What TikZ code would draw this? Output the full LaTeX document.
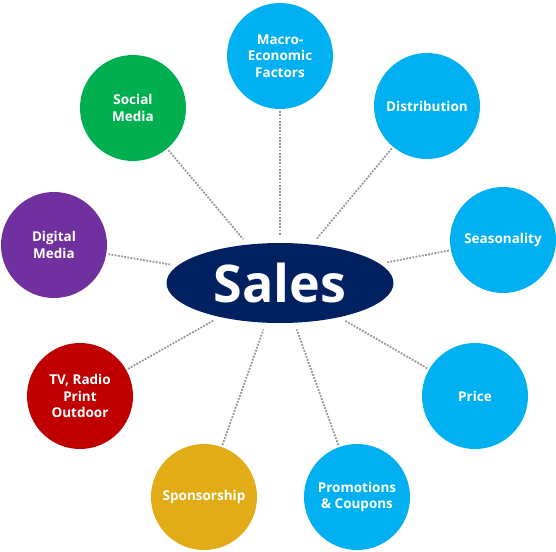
\documentclass[tikz,border=0pt]{standalone}
\usepackage{fontspec}
\setmainfont{Open Sans}
\usetikzlibrary{shapes.geometric}
\definecolor{cyanc}{RGB}{0,176,240}
\definecolor{greenc}{RGB}{0,176,80}
\definecolor{purplec}{RGB}{112,48,160}
\definecolor{redc}{RGB}{192,0,0}
\definecolor{goldc}{RGB}{226,172,22}
\definecolor{navyc}{RGB}{0,32,96}
\definecolor{linec}{RGB}{150,150,150}
\tikzset{
  bubble/.style={circle, minimum size=106pt, inner sep=0pt, align=center, text=white,
    font=\fontsize{13.5}{16.5}\selectfont\bfseries},
  conn/.style={draw=linec, line width=1.8pt, dash pattern=on 1.8pt off 1.4pt, shorten <=2pt, shorten >=7pt}
}
\begin{document}
\begin{tikzpicture}[x=1pt,y=-1pt]
\useasboundingbox (0,0) rectangle (556,551);
\node[ellipse, fill=navyc, minimum width=227pt, minimum height=80pt, inner sep=0pt, text=white,
  font=\fontsize{52}{58}\selectfont\bfseries] (sales) at (280,283) {Sales};
\node[bubble, fill=cyanc] (macro) at (280,56) {Macro-\\Economic\\Factors};
\node[bubble, fill=cyanc] (dist) at (427,106) {Distribution};
\node[bubble, fill=cyanc] (season) at (503,240) {Seasonality};
\node[bubble, fill=cyanc] (price) at (475,396) {Price};
\node[bubble, fill=cyanc] (promo) at (357,497) {Promotions\\\& Coupons};
\node[bubble, fill=goldc] (spons) at (204,497) {Sponsorship};
\node[bubble, fill=redc] (tv) at (80,396) {TV, Radio\\Print\\Outdoor};
\node[bubble, fill=purplec] (digital) at (54,245) {Digital\\Media};
\node[bubble, fill=greenc] (social) at (133,108) {Social\\Media};
\foreach \n in {macro,dist,season,price,promo,spons,tv,digital,social}
  \draw[conn] (\n) -- (sales);
\end{tikzpicture}
\end{document}
